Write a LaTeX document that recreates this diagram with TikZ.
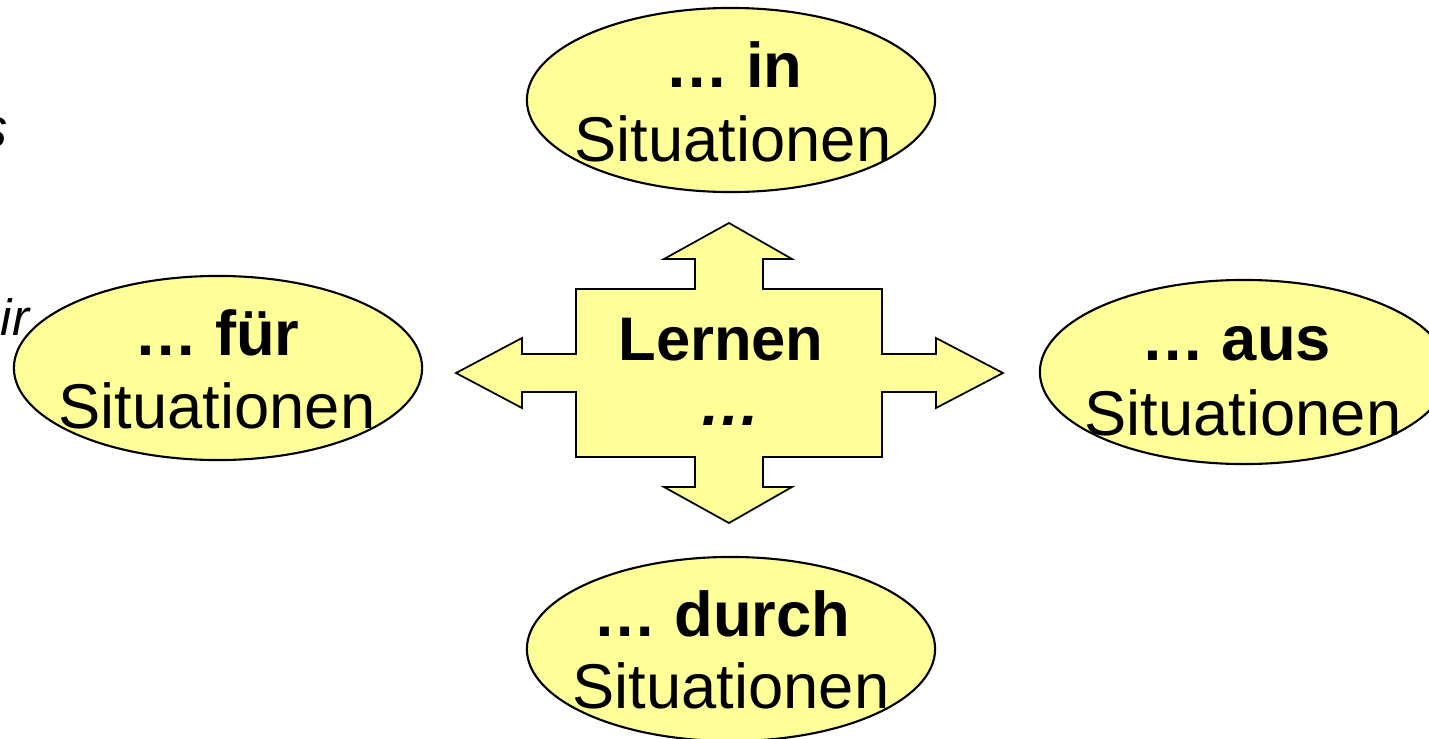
\documentclass[tikz,border=0pt]{standalone}
\usepackage{fontspec}
\setmainfont{Liberation Sans}
\usetikzlibrary{shapes.geometric}
\definecolor{paleyellow}{HTML}{FFFF99}
\tikzset{
  blob/.style={ellipse, draw=black, line width=0.6pt, fill=paleyellow,
    minimum width=4.08cm, minimum height=1.84cm, inner sep=0pt},
  lineA/.style={anchor=base, inner sep=0pt, font=\fontsize{18}{21}\selectfont\bfseries},
  lineB/.style={anchor=base, inner sep=0pt, font=\fontsize{18}{21}\selectfont},
  frag/.style={anchor=base east, inner sep=0pt, font=\itshape},
  cross/.style={draw=black, line width=0.5pt, fill=paleyellow, line join=miter}
}
\begin{document}
\begin{tikzpicture}[x=0.01cm, y=-0.01cm]
\useasboundingbox (0,0) rectangle (1429,739);
% cut-off fragments at the left edge
\node[frag, font=\fontsize{16}{19}\selectfont\itshape] (fragS) at (8,147) {s};
\node[frag, font=\fontsize{14.5}{17}\selectfont\itshape] (fragIR) at (30,335) {ir};
% central cross arrow
\coordinate (c) at (729,373);
\draw[cross] (729,223) -- (792,259) -- (763,259) -- (763,289) -- (882,289)
  -- (882,354) -- (936,354) -- (936,338) -- (1003,373) -- (936,408)
  -- (936,392) -- (882,392) -- (882,457) -- (763,457) -- (763,487)
  -- (792,487) -- (729,523) -- (664,487) -- (695,487) -- (695,457)
  -- (576,457) -- (576,392) -- (522,392) -- (522,408) -- (456,373)
  -- (522,338) -- (522,354) -- (576,354) -- (576,289) -- (695,289)
  -- (695,259) -- (664,259) -- cycle;
\node[anchor=base, inner sep=0pt, font=\fontsize{17.5}{21}\selectfont\bfseries] (lernen) at (721,360) {Lernen};
\node[anchor=base, inner sep=0pt, font=\fontsize{17.5}{21}\selectfont\bfseries\itshape] (dots) at (730,425) {…};
% ellipses
\node[blob] (in) at (731,100) {};
\node[lineA] (inA) at (734,87) {… in};
\node[lineB] (inB) at (733,161) {Situationen};

\node[blob] (fuer) at (218,368) {};
\node[lineA] (fuerA) at (217,355) {… für};
\node[lineB] (fuerB) at (217,428) {Situationen};

\node[blob] (aus) at (1244,372) {};
\node[lineA] (ausA) at (1236,360) {… aus};
\node[lineB] (ausB) at (1243,435) {Situationen};

\node[blob] (durch) at (731,649) {};
\node[lineA] (durchA) at (722,636) {… durch};
\node[lineB] (durchB) at (731,708) {Situationen};
\end{tikzpicture}
\end{document}
